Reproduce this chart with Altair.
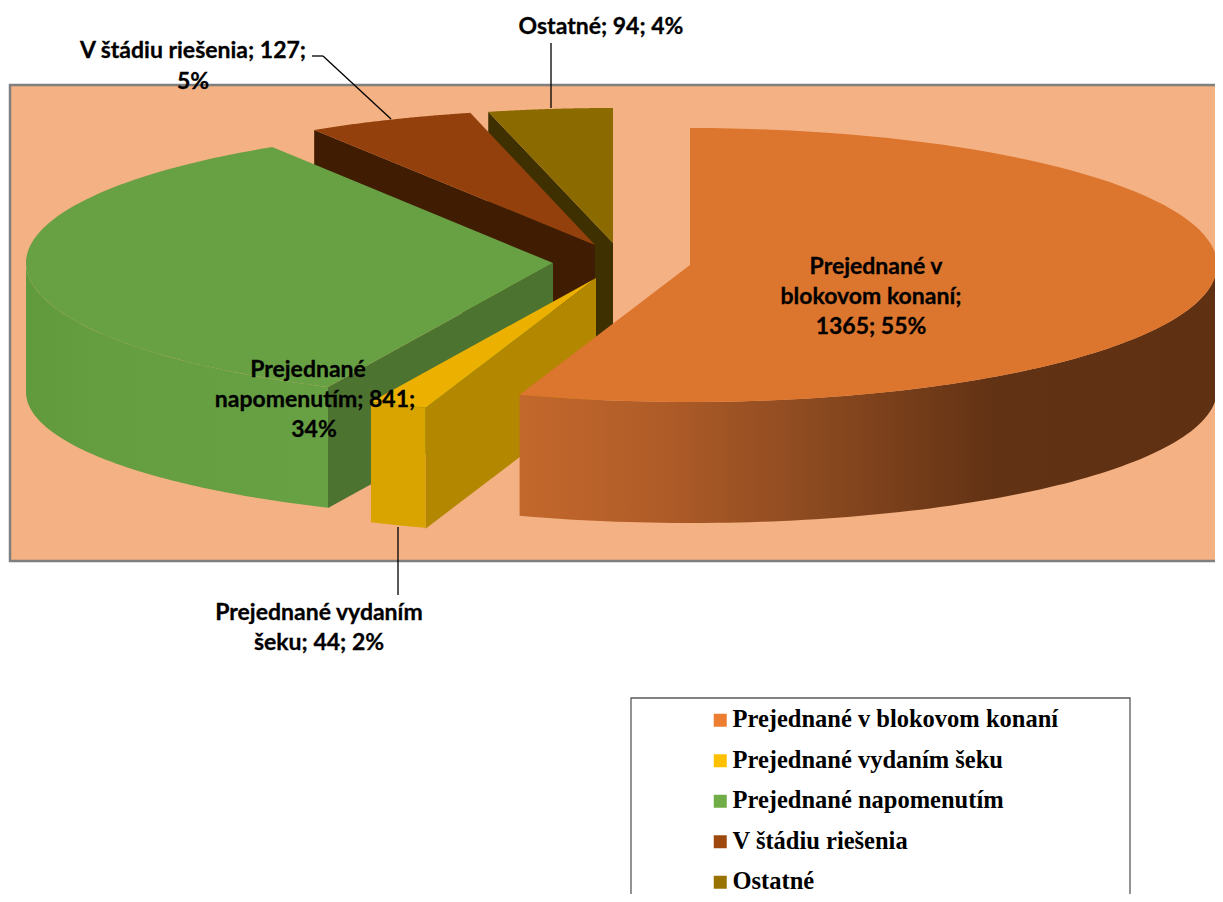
import math
import altair as alt
import pandas as pd

categories = ["Prejednané v blokovom konaní", "Prejednané vydaním šeku", "Prejednané napomenutím", "V štádiu riešenia", "Ostatné"]
values = [1365, 44, 841, 127, 94]
legend_colors = ["#ED7D31", "#FFC000", "#70AD47", "#9E480E", "#997300"]

top_colors = ["#DC752E", "#ECB100", "#68A044", "#93400C", "#8B6B00"]
face_colors = ["#8F4A20", "#B38700", "#4C732F", "#3F1C02", "#3E3000"]
front_yellow = "#D9A400"

# wedge centres of the exploded pie (px in the picture) and shape of the discs
centers = [(690, 265), (596, 278), (553, 263), (595, 245), (613, 243)]
radii_y = [137, 137, 137, 136, 135]
RX = 527
THICK = 122

label_lines = ["Prejednané v", "blokovom konaní;", "1365; 55%", "Prejednané", "napomenutím; 841;", "34%",
               "V štádiu riešenia; 127;", "5%", "Ostatné; 94; 4%", "Prejednané vydaním", "šeku; 44; 2%"]
label_x = [876, 871, 871, 308, 315, 314, 193, 193, 601, 319, 319]
label_y = [267, 297, 327, 370, 400, 430, 51, 82, 27, 613, 643]

OFF = 8
total = sum(values)
edges = [0]
for v in values:
    edges.append(edges[-1] + v / total * 360)


def pt(cx, cy, rx, ry, deg):
    a = math.radians(deg)
    return [cx + rx * math.sin(a) - OFF, cy - ry * math.cos(a) - OFF]


def arc(cx, cy, rx, ry, a0, a1, n=90):
    return [pt(cx, cy, rx, ry, a0 + (a1 - a0) * i / n) for i in range(n + 1)]


def shape(points, fill):
    closed = points + [points[0]]
    feat = {"type": "Feature", "properties": {}, "geometry": {"type": "Polygon", "coordinates": [closed]}}
    return alt.Chart(alt.Data(values=[feat])).mark_geoshape(fill=fill, filled=True, strokeWidth=0).project(
        type="identity", scale=1, translate=[0, 0])


def top(i):
    cx, cy = centers[i]
    return shape([[cx - OFF, cy - OFF]] + arc(cx, cy, RX, radii_y[i], edges[i], edges[i + 1]), top_colors[i])


def face(i, deg, color, th=THICK):
    cx, cy = centers[i]
    a = pt(cx, cy, RX, radii_y[i], deg)
    return shape([[cx - OFF, cy - OFF], a, [a[0], a[1] + th], [cx - OFF, cy - OFF + th]], color)


def side(i, a0, a1, bottom_cy, bottom_ry, fill):
    cx, cy = centers[i]
    return shape(arc(cx, cy, RX, radii_y[i], a0, a1) + arc(cx, bottom_cy, RX, bottom_ry, a1, a0), fill)


def grad(stops):
    return alt.Gradient(gradient="linear", x1=0, x2=1, y1=0, y2=0,
                        stops=[alt.GradientStop(offset=o, color=c) for o, c in stops])


layers = []

# frame
layers.append(alt.Chart(pd.DataFrame({"a": [0]})).mark_rect(fill="#F4B183", stroke="#7F7F7F", strokeWidth=2.5).encode(
    x=alt.value(10 - OFF), x2=alt.value(1300), y=alt.value(85 - OFF), y2=alt.value(561 - OFF)))

# back wedges first
layers += [face(4, edges[4], face_colors[4]), top(4)]
layers += [face(3, edges[3], face_colors[3]), top(3)]

# green wedge
layers += [face(2, edges[2], face_colors[2], 121),
           side(2, edges[2], 270, 392, 128, grad([(0, "#619A3D"), (0.25, "#659E41"), (1, "#68A044")])),
           top(2)]

# yellow wedge
layers += [face(1, edges[1], face_colors[1], 121),
           side(1, edges[1], edges[2], 402, 133, front_yellow),
           top(1)]

# orange wedge
layers += [side(0, 90, edges[1], 390, 133,
                grad([(0, "#C3682C"), (0.2, "#B05C28"), (0.42, "#8C4A20"), (0.68, "#623214"), (1, "#5F3012")])),
           top(0)]

# leader lines
rule_rows = pd.DataFrame({"x": [551, 312, 323, 398], "x2": [551, 323, 391, 398],
                          "y": [43, 56, 56, 527], "y2": [108, 56, 119, 595]})
for r in rule_rows.itertuples():
    layers.append(alt.Chart(pd.DataFrame({"a": [0]})).mark_rule(color="#000000", strokeWidth=1.3).encode(
        x=alt.value(r.x - OFF), x2=alt.value(r.x2 - OFF), y=alt.value(r.y - OFF), y2=alt.value(r.y2 - OFF)))

# data labels
labels = pd.DataFrame({"t": label_lines, "x": [v - OFF for v in label_x], "y": [v - OFF for v in label_y]})
layers.append(alt.Chart(labels).mark_text(font="Lato", fontWeight="bold", fontSize=23, color="#000000",
                                          stroke="#000000", strokeWidth=0.3,
                                          align="center", baseline="middle").encode(
    text="t:N",
    x=alt.X("x:Q", scale=None),
    y=alt.Y("y:Q", scale=None)))

# legend box
layers.append(alt.Chart(pd.DataFrame({"a": [0]})).mark_rect(fill="#FFFFFF", stroke="#595959", strokeWidth=1.3).encode(
    x=alt.value(631 - OFF), x2=alt.value(1130 - OFF), y=alt.value(698 - OFF), y2=alt.value(1000)))

# legend
legend_df = pd.DataFrame({"c": categories})
layers.append(alt.Chart(legend_df).mark_square(filled=True, opacity=1).encode(
    x=alt.value(-50), y=alt.value(-50), size=alt.value(0),
    color=alt.Color("c:N", sort=categories,
                    scale=alt.Scale(domain=categories, range=legend_colors),
                    legend=alt.Legend(title=None, orient="none", legendX=713 - OFF - 5, legendY=708 - OFF,
                                      symbolType="square", symbolSize=169, symbolStrokeWidth=0,
                                      labelFont="Liberation Serif", labelFontWeight="bold", labelFontSize=24.5,
                                      labelColor="#000000", labelLimit=500, rowPadding=15.5, labelOffset=0,
                                      padding=0, symbolOpacity=1))))

chart = alt.layer(*layers).properties(
    width=1207, height=886, padding=0, autosize=alt.AutoSizeParams(type="none"),
    background="#FFFFFF"
).configure_view(stroke=None)

chart.save("out.html", embed_options={"renderer": "svg", "actions": False})
